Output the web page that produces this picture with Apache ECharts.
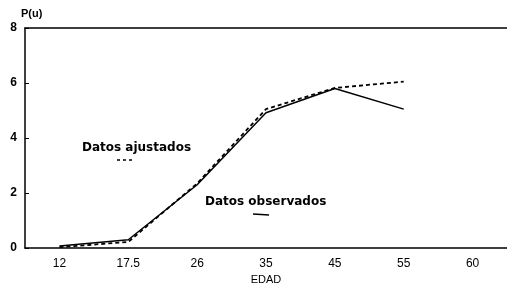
<!DOCTYPE html>
<html>
<head>
<meta charset="utf-8">
<script src="https://cdn.jsdelivr.net/npm/echarts@6/dist/echarts.min.js"></script>
<style>
  html, body { margin: 0; padding: 0; background: #fff; }
  #chart { width: 507px; height: 286px; }
</style>
</head>
<body>
<div id="chart"></div>
<script>
var edad = ['12', '17.5', '26', '35', '45', '55', '60'];
var observados = [0.07, 0.3, 2.3, 4.92, 5.8, 5.05, null];
var ajustados = [0.03, 0.22, 2.35, 5.05, 5.82, 6.05, null];
var yTicks = [0, 2, 4, 6, 8];

var chart = echarts.init(document.getElementById('chart'));
var font = 'Liberation Sans, Arial, sans-serif';
var wide = 'DejaVu Sans, sans-serif';

chart.setOption({
  animation: false,
  grid: { left: 25, right: 0, top: 28, bottom: 38, outerBoundsMode: 'none', containLabel: false },
  xAxis: [{
    type: 'category',
    data: edad,
    boundaryGap: true,
    name: 'EDAD',
    nameLocation: 'middle',
    nameGap: 25,
    nameTextStyle: { color: '#000', fontFamily: font, fontSize: 11 },
    axisLine: { lineStyle: { color: '#000', width: 1.5 } },
    axisTick: { inside: true, alignWithLabel: true, length: 4, lineStyle: { color: '#000' } },
    axisLabel: { color: '#000', fontFamily: font, fontSize: 12, margin: 10 },
    splitLine: { show: false }
  }, {
    type: 'category',
    data: edad,
    position: 'top',
    axisLine: { lineStyle: { color: '#000', width: 1.5 } },
    axisTick: { show: false },
    axisLabel: { show: false }
  }],
  yAxis: {
    type: 'value',
    min: 0,
    max: 8,
    interval: 2,
    name: 'P(u)',
    nameGap: 9,
    nameTextStyle: { color: '#000', fontFamily: font, fontSize: 11, fontWeight: 'bold', align: 'left', padding: [0, 0, 0, -4] },
    axisLine: { show: true, lineStyle: { color: '#000', width: 1.5 } },
    axisTick: { show: true, inside: true, length: 4, lineStyle: { color: '#000' } },
    axisLabel: {
      color: '#000', fontFamily: font, fontSize: 12, fontWeight: 'bold', margin: 8,
      formatter: function (v) { return yTicks.indexOf(v) >= 0 ? String(v) : ''; }
    },
    splitLine: { show: false }
  },
  graphic: [
    { type: 'text', left: 82, top: 142, style: { text: 'Datos ajustados', fill: '#000', font: 'bold 12px ' + wide } },
    { type: 'line', shape: { x1: 117, y1: 160, x2: 134, y2: 160 }, style: { stroke: '#000', lineWidth: 1.5, lineDash: [3, 3] } },
    { type: 'text', left: 205, top: 196, style: { text: 'Datos observados', fill: '#000', font: 'bold 12px ' + wide } },
    { type: 'line', shape: { x1: 253, y1: 214, x2: 269, y2: 215 }, style: { stroke: '#000', lineWidth: 1.5 } }
  ],
  series: [{
    name: 'Datos observados',
    type: 'line',
    data: observados,
    symbol: 'none',
    lineStyle: { color: '#000', width: 1.5 }
  }, {
    name: 'Datos ajustados',
    type: 'line',
    data: ajustados,
    symbol: 'none',
    lineStyle: { color: '#000', width: 1.8, type: [4, 3] }
  }]
});
</script>
</body>
</html>
